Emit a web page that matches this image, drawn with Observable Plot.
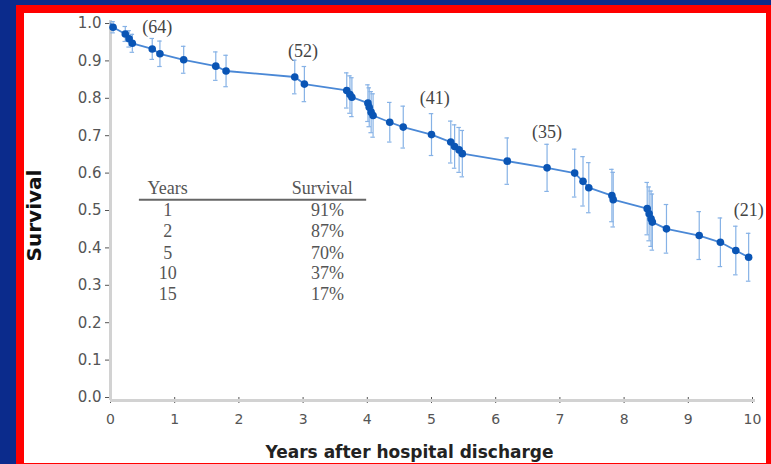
<!DOCTYPE html>
<html><head><meta charset="utf-8">
<script src="https://cdn.jsdelivr.net/npm/d3@7"></script>
<script src="https://cdn.jsdelivr.net/npm/@observablehq/plot@0.6"></script>
<style>
html,body{margin:0;padding:0;width:771px;height:464px;overflow:hidden;background:#0b2b8c;}
#frame{position:absolute;left:16px;top:5px;width:742px;height:450px;border:8px solid #ff0000;background:#fff;}
#chart{position:absolute;left:0;top:0;}
</style></head><body><div id="frame"></div><div id="chart"></div>
<script>
// Kaplan-Meier survival estimates
const years = [0.04, 0.23, 0.29, 0.34, 0.65, 0.77, 1.14, 1.64, 1.80, 2.87, 3.02, 3.68, 3.73, 3.76, 4.01, 4.03, 4.06, 4.09, 4.35, 4.56, 5.00, 5.30, 5.36, 5.43, 5.48, 6.18, 6.80, 7.23, 7.36, 7.45, 7.81, 7.83, 8.36, 8.39, 8.42, 8.44, 8.66, 9.17, 9.50, 9.74, 9.94];
const survival = [0.990, 0.972, 0.959, 0.947, 0.932, 0.919, 0.903, 0.886, 0.873, 0.857, 0.838, 0.821, 0.810, 0.803, 0.787, 0.776, 0.763, 0.754, 0.736, 0.723, 0.703, 0.683, 0.671, 0.662, 0.652, 0.632, 0.614, 0.600, 0.578, 0.561, 0.540, 0.529, 0.505, 0.491, 0.478, 0.469, 0.451, 0.433, 0.415, 0.393, 0.375];
const errHalf = [0.015, 0.020, 0.022, 0.024, 0.028, 0.034, 0.036, 0.038, 0.042, 0.045, 0.047, 0.047, 0.050, 0.052, 0.049, 0.052, 0.055, 0.058, 0.053, 0.056, 0.056, 0.056, 0.058, 0.060, 0.062, 0.062, 0.063, 0.064, 0.066, 0.067, 0.070, 0.073, 0.070, 0.072, 0.074, 0.075, 0.065, 0.064, 0.065, 0.065, 0.064];

// numbers at risk
const riskLabels = ["(64)", "(52)", "(41)", "(35)", "(21)"];
const riskX = [0.73, 3.0, 5.05, 6.8, 9.94];
const riskY = [0.989, 0.926, 0.80, 0.709, 0.50];

// inset table
const tableHeaders = ["Years", "Survival"];
const tableYears = ["1", "2", "5", "10", "15"];
const tableSurvival = ["91%", "87%", "70%", "37%", "17%"];

const xTicks = [0, 1, 2, 3, 4, 5, 6, 7, 8, 9, 10];
const yTicks = [0, 0.1, 0.2, 0.3, 0.4, 0.5, 0.6, 0.7, 0.8, 0.9, 1.0];

const data = years.map((t, i) => ({t, s: survival[i], e: errHalf[i]}));
const lineData = [{t: 0, s: 1}, ...data];
const risk = riskLabels.map((label, i) => ({label, t: riskX[i], s: riskY[i]}));

// table layout (data coordinates)
const colYears = 0.89, colSurv = 3.38, headerY = 0.559, ruleY = 0.529;
const rowY = [0.500, 0.444, 0.385, 0.332, 0.275];
const rows = tableYears.map((y, i) => ({yr: y, sv: tableSurvival[i], s: rowY[i]}));

const serif = "'Liberation Serif', 'DejaVu Serif', serif";
const sans = "'DejaVu Sans', 'Liberation Sans', sans-serif";
const capW = 0.035;

const chart = Plot.plot({
  width: 771, height: 464,
  marginLeft: 110, marginRight: 19, marginTop: 23, marginBottom: 67,
  style: {background: "transparent", fontFamily: sans},
  x: {domain: [0, 10]},
  y: {domain: [0, 1]},
  marks: [
    Plot.axisX({ticks: xTicks, tickSize: 6, tickPadding: 11, fontSize: 14, fill: "#555", stroke: "#555", label: null}),
    Plot.axisY({ticks: yTicks, tickFormat: d3.format(".1f"), tickSize: 5, tickPadding: 4, fontSize: 15, fill: "#555", stroke: "#555", label: null}),
    Plot.ruleX([0], {stroke: "#d2d2d2", strokeWidth: 3, insetTop: -3, insetBottom: -3}),
    Plot.ruleY([0], {stroke: "#d2d2d2", strokeWidth: 3, dy: 3, insetRight: -3}),
    Plot.ruleX(data, {x: "t", y1: d => d.s - d.e, y2: d => d.s + d.e, stroke: "#86b2e6", strokeWidth: 1.2}),
    Plot.ruleY(data, {y: d => d.s - d.e, x1: d => d.t - capW, x2: d => d.t + capW, stroke: "#86b2e6", strokeWidth: 1.2}),
    Plot.ruleY(data, {y: d => d.s + d.e, x1: d => d.t - capW, x2: d => d.t + capW, stroke: "#86b2e6", strokeWidth: 1.2}),
    Plot.line(lineData, {x: "t", y: "s", stroke: "#4a88d6", strokeWidth: 1.8}),
    Plot.dot(data, {x: "t", y: "s", r: 3.8, fill: "#0a55b5"}),
    Plot.text(risk, {x: "t", y: "s", text: "label", fontFamily: serif, fontSize: 18, fill: "#444"}),
    Plot.text([tableHeaders[0]], {x: colYears, y: headerY, text: d => d, fontFamily: serif, fontSize: 18, fill: "#555"}),
    Plot.text([tableHeaders[1]], {x: colSurv - 0.08, y: headerY, text: d => d, fontFamily: serif, fontSize: 18, fill: "#555"}),
    Plot.ruleY([ruleY], {x1: 0.45, x2: 3.99, stroke: "#666", strokeWidth: 2}),
    Plot.text(rows, {x: colYears, y: "s", text: "yr", fontFamily: serif, fontSize: 18, fill: "#555"}),
    Plot.text(rows, {x: colSurv, y: "s", text: "sv", fontFamily: serif, fontSize: 18, fill: "#555"}),
    Plot.text(["Survival"], {frameAnchor: "left", textAnchor: "middle", lineAnchor: "middle", dx: -76, dy: 5, rotate: -90, text: d => d, fontSize: 20, fontWeight: "bold", fill: "#111"}),
    Plot.text(["Years after hospital discharge"], {frameAnchor: "bottom", textAnchor: "middle", lineAnchor: "middle", dx: -22, dy: 55, text: d => d, fontSize: 17, fontWeight: "bold", fill: "#222"})
  ]
});
document.getElementById("chart").appendChild(chart);
</script></body></html>
